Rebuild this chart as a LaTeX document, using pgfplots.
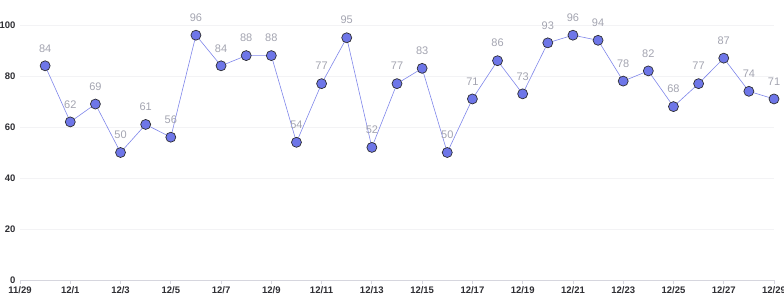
\documentclass[border=0pt]{standalone}
\usepackage{pgfplots}
\pgfplotsset{compat=1.18}
\usepackage{fontspec}
\setmainfont{Liberation Sans}
\definecolor{ptblue}{HTML}{6E76E8}
\definecolor{lineblue}{HTML}{7F86EA}
\definecolor{lblgray}{HTML}{A3A4B0}
\definecolor{axgray}{HTML}{D6D6DE}
\definecolor{gridgray}{HTML}{F3F3F5}
\definecolor{tickgray}{HTML}{2E2E33}
\begin{document}
\begin{tikzpicture}
\begin{axis}[
  scale only axis,
  width=754pt, height=255pt,
  at={(20pt,20pt)}, anchor=south west,
  xmin=0, xmax=30, ymin=0, ymax=100,
  axis x line*=bottom,
  axis y line*=left,
  x axis line style={draw=axgray, line width=0.8pt},
  y axis line style={draw=none},
  xtick={0,2,...,30},
  xticklabels={11/29,12/1,12/3,12/5,12/7,12/9,12/11,12/13,12/15,12/17,12/19,12/21,12/23,12/25,12/27,12/29},
  x tick style={draw=axgray, line width=0.8pt},
  y tick style={draw=none},
  major tick length=4pt,
  tick align=outside,
  ytick={0,20,40,60,80,100},
  ymajorgrids,
  grid style={draw=gridgray, line width=0.8pt},
  ticklabel style={font=\fontsize{9.5}{11}\selectfont\bfseries, text=tickgray},
  x tick label style={yshift=1pt},
  y tick label style={xshift=3pt},
  /pgf/number format/assume math mode=true,
  clip=false,
  every node near coord/.style={font=\fontsize{11}{13}\selectfont, text=lblgray, anchor=south, yshift=10pt},
]
\addplot[color=lineblue, line width=0.6pt, mark=*, mark size=5pt,
  mark options={fill=ptblue, draw=tickgray, line width=0.7pt},
  nodes near coords] coordinates {
(1,84)(2,62)(3,69)(4,50)(5,61)(6,56)(7,96)(8,84)(9,88)(10,88)
(11,54)(12,77)(13,95)(14,52)(15,77)(16,83)(17,50)(18,71)(19,86)(20,73)
(21,93)(22,96)(23,94)(24,78)(25,82)(26,68)(27,77)(28,87)(29,74)(30,71)
};
\end{axis}
\pgfresetboundingbox
\path (0,0) rectangle (784pt,300pt);
\end{tikzpicture}
\end{document}
